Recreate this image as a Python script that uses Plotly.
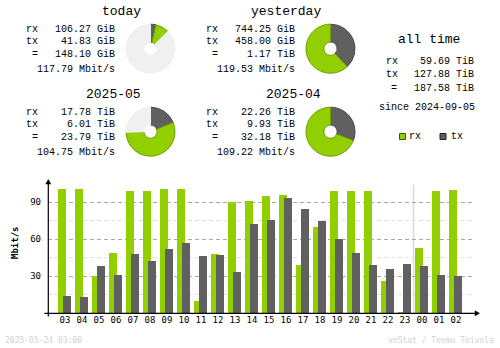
import plotly.graph_objects as go

W, H = 500, 348

# ---------------- data ----------------
hours = ["03", "04", "05", "06", "07", "08", "09", "10", "11", "12", "13", "14",
         "15", "16", "17", "18", "19", "20", "21", "22", "23", "00", "01", "02"]
rx_mbit = [100.8, 100.8, 30.3, 48.9, 99.2, 99.2, 100.8, 100.8, 10.0, 48.1, 90.3, 91.1,
           95.1, 95.9, 39.2, 70.0, 99.2, 99.2, 99.2, 26.2, 1.0, 53.0, 99.2, 100.0]
tx_mbit = [14.0, 13.2, 38.4, 31.1, 48.1, 42.4, 52.2, 57.0, 46.5, 47.3, 33.5, 72.4,
           75.7, 93.5, 84.6, 74.9, 60.3, 48.9, 39.2, 35.9, 40.0, 38.4, 31.1, 30.3]
y_ticks = [30, 60, 90]

periods = ["today", "yesterday", "2025-05", "2025-04"]
rx_text = ["106.27 GiB", "744.25 GiB", "17.78 TiB", "22.26 TiB"]
tx_text = ["41.83 GiB", "458.00 GiB", "6.01 TiB", "9.93 TiB"]
total_text = ["148.10 GiB", "1.17 TiB", "23.79 TiB", "32.18 TiB"]
rate_text = ["117.79 Mbit/s", "119.53 Mbit/s", "104.75 Mbit/s", "109.22 Mbit/s"]
rx_val = [106.27, 744.25, 17.78, 22.26]
tx_val = [41.83, 458.00, 6.01, 9.93]
elapsed = [0.125, 1.0, 0.746, 1.0]

alltime_rx = "59.69 TiB"
alltime_tx = "127.88 TiB"
alltime_total = "187.58 TiB"
since_text = "since 2024-09-05"
timestamp = "2025-05-24 03:00"
credit = "vnStat / Teemu Toivola"

RX_C = "#92cf00"
TX_C = "#606060"
REST_C = "#f0f0f0"
MONO = "DejaVu Sans Mono"
THIN = "Liberation Mono"


def px(x):
    return x / W


def py(y):
    return 1 - y / H


fig = go.Figure()

# ---------------- bars ----------------
idx = list(range(len(hours)))
fig.add_trace(go.Bar(x=idx, y=rx_mbit, marker=dict(color=RX_C, line=dict(width=0)),
                     offset=-0.39, width=0.46, hoverinfo="skip"))
fig.add_trace(go.Bar(x=idx, y=tx_mbit, marker=dict(color=TX_C, line=dict(width=0)),
                     offset=-0.11, width=0.47, hoverinfo="skip"))

# ---------------- pies ----------------
col_dx = [0, 180, 0, 180]
row_dy = [0, 0, 83, 83]
R = 24.5
for i in range(4):
    cx, cy = 150.5 + col_dx[i], 48.7 + row_dy[i]
    tot = rx_val[i] + tx_val[i]
    rest = tot / elapsed[i] - tot
    vals = [tx_val[i], rx_val[i]] + ([rest] if rest > 1e-9 else [])
    cols = [TX_C, RX_C] + ([REST_C] if rest > 1e-9 else [])
    lcols = ["#4a4a4a", "#6f9e00"] + (["#f0f0f0"] if rest > 1e-9 else [])
    fig.add_trace(go.Pie(values=vals, sort=False, direction="clockwise", rotation=0,
                         hole=0.27, textinfo="none", hoverinfo="skip", showlegend=False,
                         marker=dict(colors=cols, line=dict(color=lcols, width=1)),
                         domain=dict(x=[px(cx - R), px(cx + R)], y=[py(cy + R), py(cy - R)])))

# ---------------- text ----------------
ann = []


def text(x, y, s, size=10, xa="left", color="black", angle=0, fam=THIN):
    ann.append(dict(x=px(x), y=py(y), xref="paper", yref="paper", text=s, showarrow=False,
                    xanchor=xa, yanchor="middle", borderpad=0, textangle=angle,
                    font=dict(family=fam, size=size, color=color)))


row_y = [29.5, 41.5, 54.5, 69]
for i in range(4):
    dx, dy = col_dx[i], row_dy[i]
    text(141.5 + dx, 12 + dy, periods[i], size=13, xa="right")
    text(25 + dx, row_y[0] + dy, "rx")
    text(25 + dx, row_y[1] + dy, "tx")
    text(35 + dx, row_y[2] + dy, "=", xa="center")
    text(115.5 + dx, row_y[0] + dy, rx_text[i], xa="right")
    text(115.5 + dx, row_y[1] + dy, tx_text[i], xa="right")
    text(115.5 + dx, row_y[2] + dy, total_text[i], xa="right")
    text(115.5 + dx, row_y[3] + dy, rate_text[i], xa="right")

text(429, 40, "all time", size=13, xa="center")
text(385, 62, "rx")
text(385, 74.5, "tx")
text(393.5, 88, "=", xa="center")
text(474.5, 62, alltime_rx, xa="right")
text(474.5, 74.5, alltime_tx, xa="right")
text(474.5, 88, alltime_total, xa="right")
text(426.5, 107.7, since_text, xa="center")
text(407.5, 136.5, "rx")
text(449.5, 136.5, "tx")

text(15, 243, "<b>Mbit/s</b>", size=9, xa="center", angle=-90, fam=MONO)
text(4, 340, timestamp, size=8, color="#d2d2d2", fam=MONO)
text(495, 340, credit, size=8, xa="right", color="#d2d2d2", fam=MONO)

# ---------------- shapes ----------------
shapes = []
ax_x, ax_y = 48.3, 313.3
# separator between days
shapes.append(dict(type="line", xref="x", yref="y", x0=20.5, x1=20.5, y0=0, y1=104.5,
                   line=dict(color="#dcdcdc", width=1.5), layer="below"))
# axes
shapes.append(dict(type="line", xref="paper", yref="paper", x0=px(ax_x), x1=px(ax_x),
                   y0=py(316.5), y1=py(181), line=dict(color="black", width=1.2)))
shapes.append(dict(type="line", xref="paper", yref="paper", x0=px(44.5), x1=px(476),
                   y0=py(ax_y), y1=py(ax_y), line=dict(color="black", width=1.2)))
# arrowheads
shapes.append(dict(type="path", xref="paper", yref="paper",
                   path=f"M {px(ax_x)} {py(179.5)} L {px(ax_x - 2.5)} {py(184)} L {px(ax_x + 2.5)} {py(184)} Z",
                   fillcolor="black", line=dict(color="black", width=0.5)))
shapes.append(dict(type="path", xref="paper", yref="paper",
                   path=f"M {px(479.5)} {py(ax_y)} L {px(475)} {py(ax_y - 2.5)} L {px(475)} {py(ax_y + 2.5)} Z",
                   fillcolor="black", line=dict(color="black", width=0.5)))
# legend squares
for x0, c, lc in [(399.5, RX_C, "#3c5500"), (440, TX_C, "#202020")]:
    shapes.append(dict(type="rect", xref="paper", yref="paper", x0=px(x0), x1=px(x0 + 6),
                       y0=py(139.5), y1=py(133.5), fillcolor=c, line=dict(color=lc, width=1)))

fig.update_layout(
    width=W, height=H, margin=dict(l=0, r=0, t=0, b=0),
    paper_bgcolor="white", plot_bgcolor="white",
    barmode="overlay", showlegend=False, bargap=0,
    annotations=ann, shapes=shapes,
    xaxis=dict(domain=[px(48), px(473)], range=[-1, 24], tickmode="array",
               tickvals=idx, ticktext=hours, showgrid=False, zeroline=False, showline=False,
               ticks="", tickfont=dict(family=MONO, size=9, color="black"), fixedrange=True),
    yaxis=dict(domain=[py(313.3), py(181)], range=[0, 107.3], tickmode="array",
               tickvals=y_ticks, showgrid=True, gridcolor="#a9a9a9", griddash="4px,3px",
               gridwidth=1, zeroline=False, showline=False, ticks="",
               ticklabelstandoff=6,
               minor=dict(tickmode="array", tickvals=[15, 45, 75], showgrid=True,
                          gridcolor="#e0e0e0", griddash="4px,3px", gridwidth=1),
               tickfont=dict(family=MONO, size=9, color="black"), fixedrange=True),
)

fig.write_html("out.html")
